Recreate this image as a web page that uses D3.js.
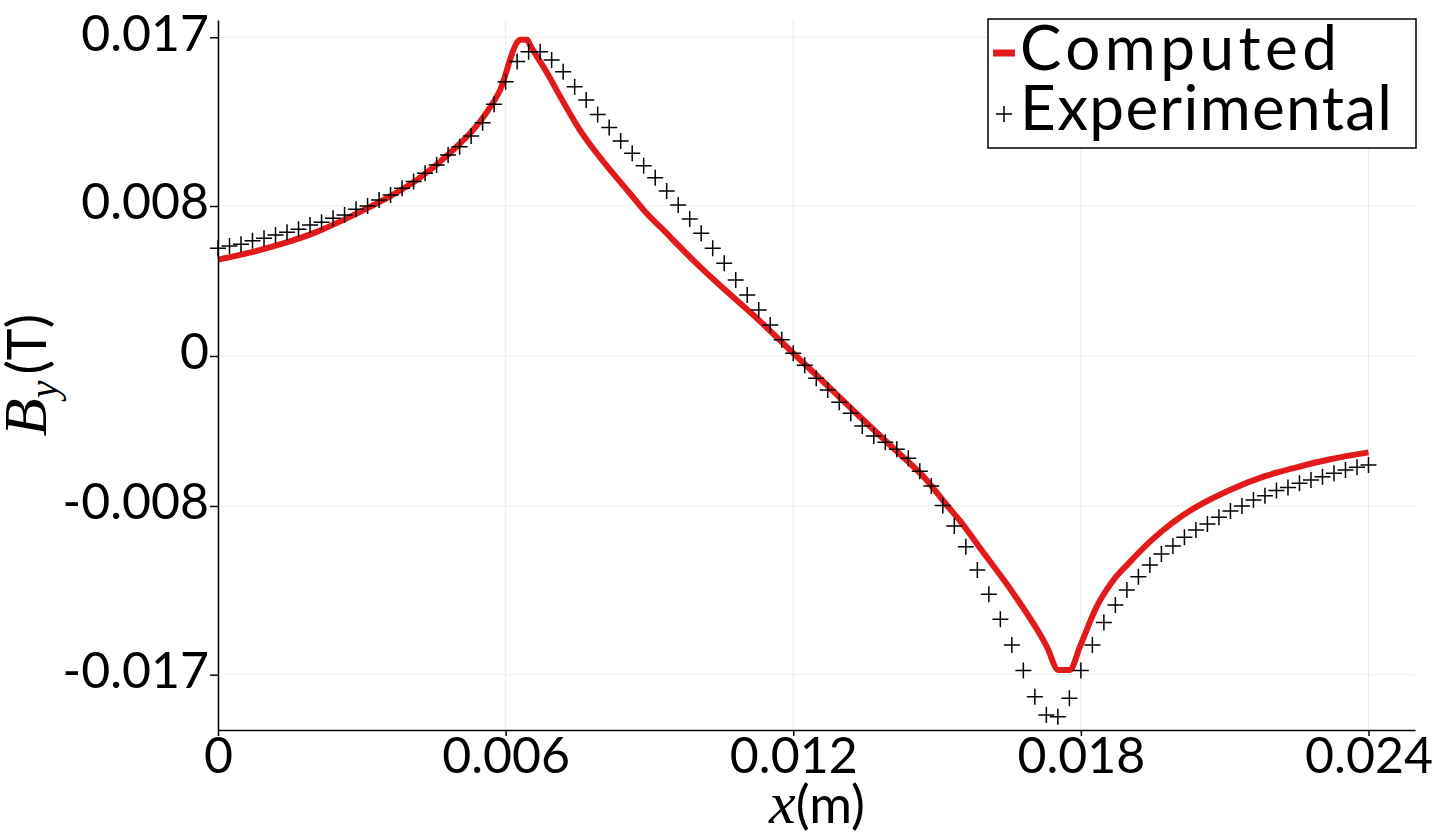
<!DOCTYPE html>
<html>
<head>
<meta charset="utf-8">
<script src="https://cdn.jsdelivr.net/npm/d3@7"></script>
<style>
	body { margin: 0; background: #fff; }
	svg { display: block; }
	.tick-label { font-family: Lato, "Open Sans", sans-serif; font-size: 50px; fill: #000; }
	.legend-label { font-family: Lato, "Open Sans", sans-serif; font-size: 62px; fill: #000; }
</style>
</head>
<body>
<div id="chart"></div>
<script>
// axis ticks
var xTicks = [0, 0.006, 0.012, 0.018, 0.024];
var xTickLabels = ["0", "0.006", "0.012", "0.018", "0.024"];
var yTicks = [-0.017, -0.008, 0, 0.008, 0.017];
var yTickLabels = ["-0.017", "-0.008", "0", "0.008", "0.017"];

// computed field (red line)
var computedX = [0, 0.00066, 0.00136, 0.00206, 0.00275, 0.00345, 0.00415, 0.00484, 0.00555, 0.00589,
	0.00624, 0.00630, 0.00645, 0.00651, 0.00685, 0.00720, 0.00755, 0.00790, 0.00824, 0.00859,
	0.00894, 0.00929, 0.00963, 0.00998, 0.01054, 0.01124, 0.01193, 0.01270, 0.01339, 0.01409,
	0.01478, 0.01520, 0.01548, 0.01590, 0.01659, 0.01729, 0.01753, 0.01777, 0.01798, 0.01833,
	0.01868, 0.01903, 0.01937, 0.01972, 0.02007, 0.02042, 0.02111, 0.02181, 0.02250, 0.02320,
	0.02400];
var computedY = [0.00514, 0.00551, 0.00600, 0.00662, 0.00742, 0.00832, 0.00939, 0.01083, 0.01279, 0.01422,
	0.01673, 0.01687, 0.01687, 0.01659, 0.01516, 0.01356, 0.01205, 0.01081, 0.00974, 0.00868,
	0.00761, 0.00672, 0.00583, 0.00494, 0.00361, 0.00201, 0.00032, -0.00155, -0.00324, -0.00492,
	-0.00661, -0.00795, -0.00880, -0.01026, -0.01266, -0.01550, -0.01675, -0.01675, -0.01550, -0.01337,
	-0.01195, -0.01097, -0.01008, -0.00928, -0.00860, -0.00804, -0.00715, -0.00644, -0.00594, -0.00551,
	-0.00514];

// experimental field (crosses)
var experimentalX = [0.00000, 0.00024, 0.00048, 0.00072, 0.00096, 0.00120, 0.00144, 0.00168, 0.00192, 0.00216,
	0.00240, 0.00264, 0.00288, 0.00312, 0.00336, 0.00360, 0.00384, 0.00408, 0.00432, 0.00456,
	0.00480, 0.00504, 0.00528, 0.00552, 0.00576, 0.00600, 0.00624, 0.00648, 0.00672, 0.00696,
	0.00720, 0.00744, 0.00768, 0.00792, 0.00816, 0.00840, 0.00864, 0.00888, 0.00912, 0.00936,
	0.00960, 0.00984, 0.01008, 0.01032, 0.01056, 0.01080, 0.01104, 0.01128, 0.01152, 0.01176,
	0.01200, 0.01224, 0.01248, 0.01272, 0.01296, 0.01320, 0.01344, 0.01368, 0.01392, 0.01416,
	0.01440, 0.01464, 0.01488, 0.01512, 0.01536, 0.01560, 0.01584, 0.01608, 0.01632, 0.01656,
	0.01680, 0.01704, 0.01728, 0.01752, 0.01776, 0.01800, 0.01824, 0.01848, 0.01872, 0.01896,
	0.01920, 0.01944, 0.01968, 0.01992, 0.02016, 0.02040, 0.02064, 0.02088, 0.02112, 0.02136,
	0.02160, 0.02184, 0.02208, 0.02232, 0.02256, 0.02280, 0.02304, 0.02328, 0.02352, 0.02376,
	0.02400];
var experimentalY = [0.00574, 0.00587, 0.00596, 0.00615, 0.00628, 0.00645, 0.00660, 0.00676, 0.00699, 0.00713,
	0.00734, 0.00752, 0.00782, 0.00800, 0.00832, 0.00859, 0.00894, 0.00930, 0.00974, 0.01019,
	0.01072, 0.01116, 0.01173, 0.01244, 0.01342, 0.01463, 0.01570, 0.01623, 0.01623, 0.01579,
	0.01516, 0.01436, 0.01365, 0.01288, 0.01218, 0.01147, 0.01081, 0.01015, 0.00951, 0.00880,
	0.00805, 0.00731, 0.00654, 0.00574, 0.00494, 0.00405, 0.00325, 0.00245, 0.00165, 0.00087,
	0.00014, -0.00050, -0.00119, -0.00181, -0.00247, -0.00306, -0.00373, -0.00427, -0.00460, -0.00497,
	-0.00546, -0.00615, -0.00693, -0.00797, -0.00907, -0.01017, -0.01141, -0.01271, -0.01404, -0.01541,
	-0.01678, -0.01817, -0.01915, -0.01924, -0.01826, -0.01678, -0.01541, -0.01422, -0.01328, -0.01248,
	-0.01177, -0.01115, -0.01056, -0.01013, -0.00967, -0.00928, -0.00896, -0.00860, -0.00827, -0.00800,
	-0.00768, -0.00745, -0.00718, -0.00701, -0.00679, -0.00661, -0.00644, -0.00626, -0.00608, -0.00594,
	-0.00581];

var legendNames = ["Computed", "Experimental"];

var graph = {};
graph.margin = {top: 20, right: 21, bottom: 106, left: 218};
graph.width = 1436 - graph.margin.left - graph.margin.right;
graph.height = 836 - graph.margin.top - graph.margin.bottom;

var computed = computedX.map(function (d, i) { return {x: d, y: computedY[i]}; });
var experimental = experimentalX.map(function (d, i) { return {x: d, y: experimentalY[i]}; });

// set the ranges
var x = d3.scaleLinear().domain([0, 0.02497]).range([0, graph.width]);
var y = d3.scaleLinear().domain([-0.01995, 0.01792]).range([graph.height, 0]);

graph.svg = d3.select("#chart").append("svg")
	.attr("width", 1436)
	.attr("height", 836)
	.append("g")
	.attr("transform", "translate(" + graph.margin.left + "," + graph.margin.top + ")");

// grid
graph.svg.append("g")
	.selectAll("line.vgrid")
	.data(xTicks)
	.enter().append("line")
	.attr("x1", function (d) { return x(d); })
	.attr("x2", function (d) { return x(d); })
	.attr("y1", 0)
	.attr("y2", graph.height)
	.attr("stroke", "#ebebeb")
	.attr("stroke-width", 1);

graph.svg.append("g")
	.selectAll("line.hgrid")
	.data(yTicks)
	.enter().append("line")
	.attr("x1", 0)
	.attr("x2", graph.width)
	.attr("y1", function (d) { return y(d); })
	.attr("y2", function (d) { return y(d); })
	.attr("stroke", "#ebebeb")
	.attr("stroke-width", 1);

// computed line
graph.line = d3.line()
	.x(function (d) { return x(d.x); })
	.y(function (d) { return y(d.y); })
	.curve(d3.curveMonotoneX);

graph.svg.append("path")
	.datum(computed)
	.attr("d", graph.line)
	.attr("fill", "none")
	.attr("stroke", "#e31a1c")
	.attr("stroke-width", 6)
	.attr("stroke-linejoin", "miter");

// experimental crosses
var cross = "M-8,0H8M0,-8V8";
graph.svg.append("g")
	.selectAll("path")
	.data(experimental)
	.enter().append("path")
	.attr("d", cross)
	.attr("transform", function (d) { return "translate(" + x(d.x) + "," + y(d.y) + ")"; })
	.attr("fill", "none")
	.attr("stroke", "#000")
	.attr("stroke-width", 1.5);

// x axis
var xAxis = graph.svg.append("g")
	.attr("transform", "translate(0," + graph.height + ")")
	.call(d3.axisBottom(x).tickValues(xTicks).tickSize(6).tickSizeOuter(0)
		.tickFormat(function (d, i) { return xTickLabels[i]; }));
xAxis.select(".domain").attr("stroke", "#000").attr("stroke-width", 1.5);
xAxis.selectAll(".tick line").attr("stroke", "#000").attr("stroke-width", 1.5);
xAxis.selectAll(".tick text")
	.attr("class", "tick-label")
	.attr("y", 43)
	.attr("dy", 0);

// y axis
var yAxis = graph.svg.append("g")
	.call(d3.axisLeft(y).tickValues(yTicks).tickSize(8).tickSizeOuter(0)
		.tickFormat(function (d, i) { return yTickLabels[i]; }));
yAxis.select(".domain").attr("stroke", "#000").attr("stroke-width", 1.5);
yAxis.selectAll(".tick line").attr("stroke", "#000").attr("stroke-width", 1.5);
yAxis.selectAll(".tick text")
	.attr("class", "tick-label")
	.attr("x", -9)
	.attr("dy", 13);
d3.select("#chart svg").selectAll("g[font-family]").attr("font-family", null).attr("font-size", null);

// axis titles
var root = d3.select("#chart svg");
var xTitle = root.append("text")
	.attr("x", 817)
	.attr("y", 823)
	.attr("text-anchor", "middle")
	.attr("font-size", 52);
xTitle.append("tspan").attr("font-family", "'Liberation Serif', serif").attr("font-style", "italic")
	.attr("font-size", 60).text("x");
xTitle.append("tspan").attr("font-family", "Lato, sans-serif").text("(m)");

var yTitle = root.append("text")
	.attr("transform", "translate(46,375) rotate(-90)")
	.attr("text-anchor", "middle")
	.attr("font-size", 54);
yTitle.append("tspan").attr("font-family", "'Liberation Serif', serif").attr("font-style", "italic")
	.attr("font-size", 62).text("B");
yTitle.append("tspan").attr("font-family", "'Liberation Serif', serif").attr("font-style", "italic")
	.attr("font-size", 40).attr("dy", 11).text("y");
yTitle.append("tspan").attr("font-family", "Lato, sans-serif").attr("dx", 6).attr("dy", -11).text("(T)");

// legend
var legend = root.append("g").attr("transform", "translate(988,19)");
legend.append("rect")
	.attr("width", 428)
	.attr("height", 129)
	.attr("fill", "#fff")
	.attr("stroke", "#000")
	.attr("stroke-width", 1.5);
legend.append("line")
	.attr("x1", 5).attr("x2", 27)
	.attr("y1", 34).attr("y2", 34)
	.attr("stroke", "#e31a1c")
	.attr("stroke-width", 7);
legend.append("path")
	.attr("d", cross)
	.attr("transform", "translate(16,95)")
	.attr("stroke", "#000")
	.attr("stroke-width", 1.5);
legend.selectAll("text")
	.data(legendNames)
	.enter().append("text")
	.attr("class", "legend-label")
	.attr("x", 32)
	.attr("y", function (d, i) { return 51 + i * 60; })
	.attr("textLength", function (d, i) { return i === 0 ? 317 : 372; })
	.attr("lengthAdjust", "spacing")
	.text(function (d) { return d; });
</script>
</body>
</html>
